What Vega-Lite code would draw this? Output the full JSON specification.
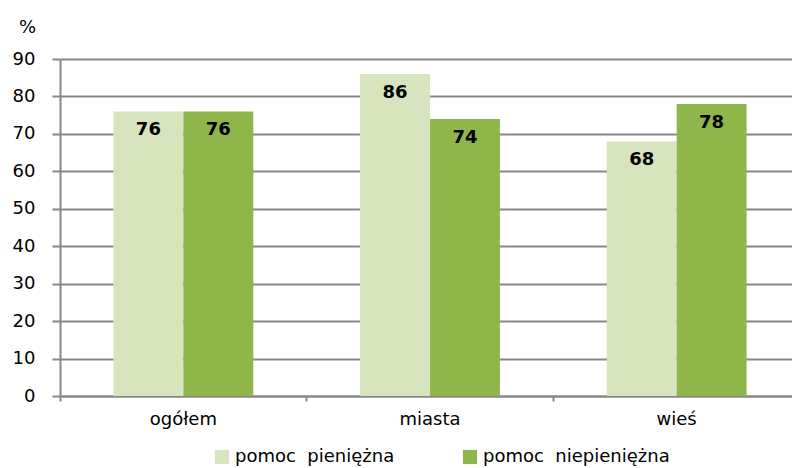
{
  "$schema": "https://vega.github.io/schema/vega-lite/v6.json",
  "width": 740,
  "height": 337,
  "autosize": "none",
  "padding": {"left": 60, "top": 59, "right": 0, "bottom": 72},
  "background": "white",
  "config": {
    "font": "DejaVu Sans",
    "view": {"stroke": null}
  },
  "data": {
    "values": [
      {"kategoria": "ogółem", "seria": "pomoc  pieniężna", "wartosc": 76},
      {"kategoria": "ogółem", "seria": "pomoc  niepieniężna", "wartosc": 76},
      {"kategoria": "miasta", "seria": "pomoc  pieniężna", "wartosc": 86},
      {"kategoria": "miasta", "seria": "pomoc  niepieniężna", "wartosc": 74},
      {"kategoria": "wieś", "seria": "pomoc  pieniężna", "wartosc": 68},
      {"kategoria": "wieś", "seria": "pomoc  niepieniężna", "wartosc": 78}
    ]
  },
  "encoding": {
    "x": {
      "field": "kategoria",
      "type": "nominal",
      "sort": ["ogółem", "miasta", "wieś"],
      "scale": {"paddingInner": 0.433, "paddingOuter": 0.2166},
      "axis": {
        "title": null,
        "labelAngle": 0,
        "bandPosition": -0.382,
        "labelFontSize": 18,
        "labelColor": "#000000",
        "labelPadding": 9,
        "domainColor": "#878787",
        "domainWidth": 2,
        "tickColor": "#878787",
        "tickWidth": 2,
        "tickSize": 5,
        "grid": false
      }
    },
    "xOffset": {
      "field": "seria",
      "type": "nominal",
      "sort": ["pomoc  pieniężna", "pomoc  niepieniężna"],
      "scale": {"paddingInner": 0, "paddingOuter": 0}
    },
    "y": {
      "field": "wartosc",
      "type": "quantitative",
      "scale": {"domain": [0, 90], "nice": false},
      "axis": {
        "values": [0, 10, 20, 30, 40, 50, 60, 70, 80, 90],
        "title": "%",
        "titleAngle": 0,
        "titleFontSize": 18,
        "titleFontWeight": "normal",
        "titleColor": "#000000",
        "titleX": -33,
        "titleY": -27,
        "titleAlign": "center",
        "titleBaseline": "alphabetic",
        "labelFontSize": 18,
        "labelColor": "#000000",
        "labelPadding": 17,
        "domainColor": "#878787",
        "domainWidth": 2,
        "tickColor": "#878787",
        "tickWidth": 2,
        "tickSize": 8,
        "grid": true,
        "gridColor": "#878787",
        "gridWidth": 2
      }
    }
  },
  "layer": [
    {
      "mark": {"type": "bar"},
      "encoding": {
        "color": {
          "field": "seria",
          "type": "nominal",
          "sort": ["pomoc  pieniężna", "pomoc  niepieniężna"],
          "scale": {"range": ["#D7E4BD", "#8FB64B"]},
          "legend": {
            "title": null,
            "orient": "none",
            "direction": "horizontal",
            "legendX": 153,
            "legendY": 389,
            "symbolType": "square",
            "symbolSize": 200,
            "symbolStrokeWidth": 0,
            "labelFontSize": 18,
            "labelColor": "#000000",
            "labelOffset": 4,
            "labelLimit": 400,
            "columnPadding": 66,
            "labelExpr": "replace(datum.label, '  ', '\u00a0 ')"
          }
        }
      }
    },
    {
      "mark": {"type": "text", "fontSize": 18, "fontWeight": "bold", "baseline": "middle", "dy": 19, "color": "#000000"},
      "encoding": {
        "text": {"field": "wartosc", "type": "quantitative"}
      }
    }
  ]
}
